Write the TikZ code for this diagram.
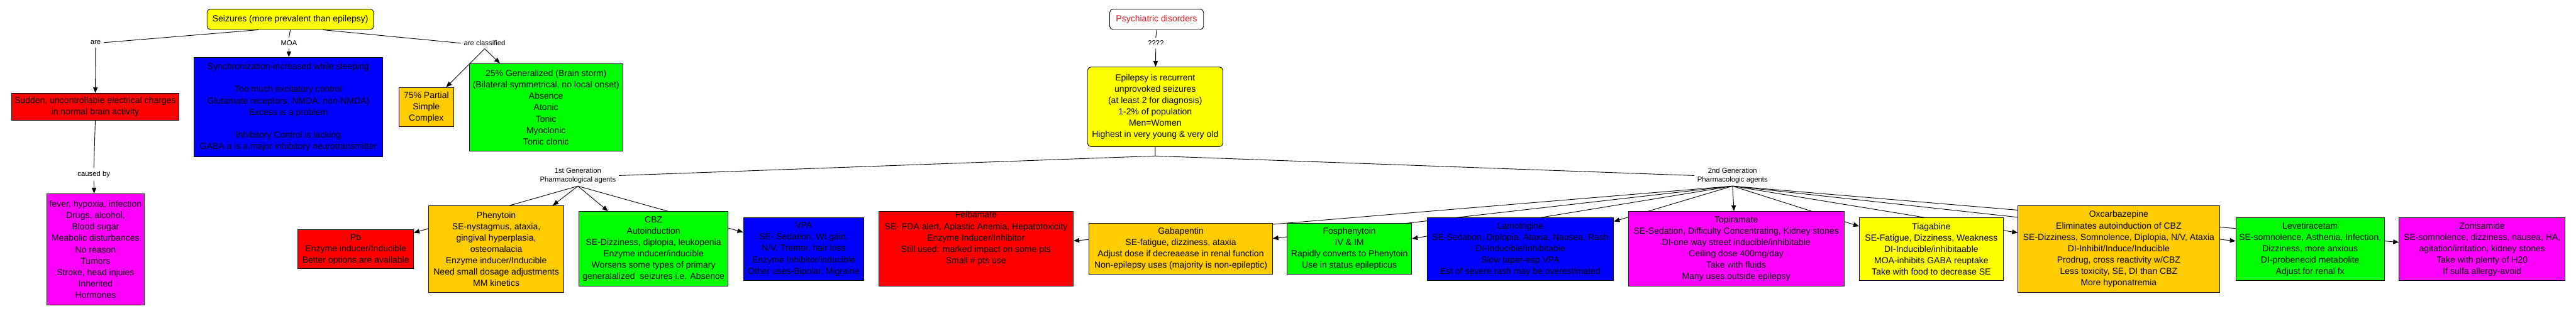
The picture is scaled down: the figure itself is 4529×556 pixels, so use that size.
\documentclass[tikz,border=0pt]{standalone}
\usepackage{fontspec}
\setmainfont{Liberation Sans}
\usetikzlibrary{arrows.meta,backgrounds}
\definecolor{cyel}{HTML}{FFFF00}
\definecolor{cred}{HTML}{FF0000}
\definecolor{cblue}{HTML}{0000FF}
\definecolor{cgreen}{HTML}{00FF00}
\definecolor{corange}{HTML}{FFCC00}
\definecolor{cmag}{HTML}{FF00FF}
\definecolor{ctxtred}{HTML}{E0141E}
\begin{document}
\begin{tikzpicture}[x=1pt,y=-1pt,
  concept/.style={draw=black, line width=1pt, inner sep=0pt, align=center,
    font=\fontsize{15.5}{20}\selectfont},
  rconcept/.style={concept, rounded corners=6pt},
  lbl/.style={inner sep=5pt, align=center, font=\fontsize{12.5}{15}\selectfont},
  link/.style={draw=black, line width=1pt},
  arr/.style={link, -{Triangle[length=10pt,width=8pt]}}]
\useasboundingbox (0,0) rectangle (4529,556);

% ---- top row concepts
\node[rconcept, fill=cyel, minimum width=293pt, minimum height=36pt] (seiz) at (510.5,34)
  {Seizures (more prevalent than epilepsy)};
\node[rconcept, fill=white, text=ctxtred, minimum width=165pt, minimum height=36pt] (psych) at (2033.5,34)
  {Psychiatric disorders};

% ---- labels
\node[lbl] (are) at (168,75) {are};
\node[lbl] (moa) at (508,76) {MOA};
\node[lbl] (cls) at (852,76) {are classified};
\node[lbl] (psq) at (2032,76) {????};
\node[lbl] (causedby) at (165,307) {caused by};
\node[lbl] (gen1) at (1016,309) {1st Generation\\Pharmacological agents};
\node[lbl] (gen2) at (3046,309) {2nd Generation\\Pharmacologic agents};

% ---- second row
\node[concept, fill=cred, minimum width=295pt, minimum height=48pt] (sudden) at (167.5,188)
  {Sudden, uncontrollable electrical charges\\in normal brain activity};
\node[concept, fill=cblue, minimum width=332pt, minimum height=175pt] (moabox) at (507,188.5)
  {Synchronization-increased while sleeping\\[20pt]
   Too much excitatory control\\Glutamate receptors, NMDA, non-NMDA)\\Excess is a problem\\[20pt]
   Inhibitory Control is lacking\\GABA a is a major inhibitory neurotransmitter};
\node[concept, fill=corange, minimum width=97pt, minimum height=69pt] (partial) at (749.5,188.5)
  {75\% Partial\\Simple\\Complex};
\node[concept, fill=cgreen, minimum width=270pt, minimum height=154pt] (gen) at (960,189)
  {25\% Generalized (Brain storm)\\(Bilateral symmetrical, no local onset)\\Absence\\Atonic\\Tonic\\Myoclonic\\Tonic clonic};
\node[rconcept, fill=cyel, minimum width=238pt, minimum height=140pt] (epi) at (2031,188)
  {Epilepsy is recurrent\\unprovoked seizures\\(at least 2 for diagnosis)\\1-2\% of population\\Men=Women\\Highest in very young \& very old};

% ---- bottom row
\node[concept, fill=cmag, minimum width=172pt, minimum height=196pt] (causes) at (168,439)
  {fever, hypoxia, infection\\Drugs, alcohol,\\Blood sugar\\Meabolic disturbances\\No reason\\Tumors\\Stroke, head injuies\\Inherited\\Hormones};
\node[concept, fill=cred, minimum width=203pt, minimum height=69pt] (pb) at (625.5,438.5)
  {Pb\\Enzyme inducer/Inducible\\Better options are available};
\node[concept, fill=corange, minimum width=237pt, minimum height=153pt] (phen) at (872.5,438.5)
  {Phenytoin\\SE-nystagmus, ataxia,\\gingival hyperplasia,\\osteomalacia\\Enzyme inducer/Inducible\\Need small dosage adjustments\\MM kinetics};
\node[concept, fill=cgreen, minimum width=262pt, minimum height=132pt] (cbz) at (1149,438)
  {CBZ\\Autoinduction\\SE-Dizziness, diplopia, leukopenia\\Enzyme inducer/inducible\\Worsens some types of primary\\generalalized\ \ seizures i.e. Absence};
\node[concept, fill=cblue, minimum width=212pt, minimum height=111pt] (vpa) at (1413,438.5)
  {VPA\\SE- Sedation, Wt gain,\\N/V, Tremor, hair loss\\Enzyme Inhibitor/inducible\\Other uses-Bipolar, Migraine};
\node[concept, fill=cred, minimum width=342pt, minimum height=132pt] (felb) at (1716,438)
  {Felbamate\\SE- FDA alert, Aplastic Anemia, Hepatotoxicity\\Enzyme Inducer/Inhibitor\\Still used: marked impact on some pts\\Small \# pts use\\[20pt]};
\node[concept, fill=corange, minimum width=322pt, minimum height=90pt] (gaba) at (2076,438)
  {Gabapentin\\SE-fatigue, dizziness, ataxia\\Adjust dose if decreaease in renal function\\Non-epilepsy uses (majority is non-epileptic)};
\node[concept, fill=cgreen, minimum width=219pt, minimum height=90pt] (fosph) at (2372.5,438)
  {Fosphenytoin\\IV \& IM\\Rapidly converts to Phenytoin\\Use in status epilepticus};
\node[concept, fill=cblue, minimum width=328pt, minimum height=111pt] (lamo) at (2673,438.5)
  {Lamotrigine\\SE-Sedation, Diplopia, Ataxia, Nausea, Rash\\DI-Inducible/Inhibitable\\Slow taper-esp VPA\\Est of severe rash may be overestimated};
\node[concept, fill=cmag, minimum width=379pt, minimum height=132pt] (topi) at (3052.5,438)
  {Topiramate\\SE-Sedation, Difficulty Concentrating, Kidney stones\\DI-one way street inducible/inhibitable\\Ceiling dose 400mg/day\\Take with fluids\\Many uses outside epilepsy};
\node[concept, fill=cyel, minimum width=253pt, minimum height=111pt] (tiag) at (3395.5,438.5)
  {Tiagabine\\SE-Fatigue, Dizziness, Weakness\\DI-Inducible/inhibitaable\\MOA-inhibits GABA reuptake\\Take with food to decrease SE};
\node[concept, fill=corange, minimum width=354pt, minimum height=153pt] (oxc) at (3725,438.5)
  {Oxcarbazepine\\Eliminates autoinduction of CBZ\\SE-Dizziness, Somnolence, Diplopia, N/V, Ataxia\\DI-Inhibit/Induce/Inducible\\Prodrug, cross reactivity w/CBZ\\Less toxicity, SE, DI than CBZ\\More hyponatremia};
\node[concept, fill=cgreen, minimum width=261pt, minimum height=111pt] (leve) at (4061.5,438.5)
  {Levetiracetam\\SE-somnolence, Asthenia, Infection,\\Dizziness, more anxious\\DI-probenecid metabolite\\Adjust for renal fx};
\node[concept, fill=cmag, minimum width=292pt, minimum height=111pt] (zoni) at (4364,438.5)
  {Zonisamide\\SE-somnolence, dizziness, nausea, HA,\\agitation/irritation, kidney stones\\Take with plenty of H20\\If sulfa allergy-avoid};

\coordinate (epij) at ([yshift=-16pt]epi.south);

% ---- connectors (behind the concepts)
\begin{pgfonlayer}{background}
\draw[link] ([xshift=-56pt]seiz.south) -- (are.east);
\draw[link] (seiz.south) -- (moa.north);
\draw[link] ([xshift=57pt]seiz.south) -- (cls.west);
\draw[arr] (are.south) -- (sudden);
\draw[arr] (moa.south) -- (moabox);
\draw[arr] (cls.south) -- (gen);
\draw[arr] (cls.south) -- (partial);
\draw[link] (sudden.south) -- (causedby.north);
\draw[arr] (causedby.south) -- (causes);
\draw[link] (psych.south) -- (psq.north);
\draw[arr] (psq.south) -- (epi);
\draw[link] (epi.south) -- (epij) -- (gen1.east);
\draw[link] (epij) -- (gen2.west);
\foreach \t in {pb,phen,cbz,vpa} \draw[arr] (gen1.south) -- (\t);
\foreach \t in {felb,gaba,fosph,lamo,topi,tiag,oxc,leve,zoni} \draw[arr] (gen2.south) -- (\t);
\end{pgfonlayer}
\end{tikzpicture}
\end{document}
